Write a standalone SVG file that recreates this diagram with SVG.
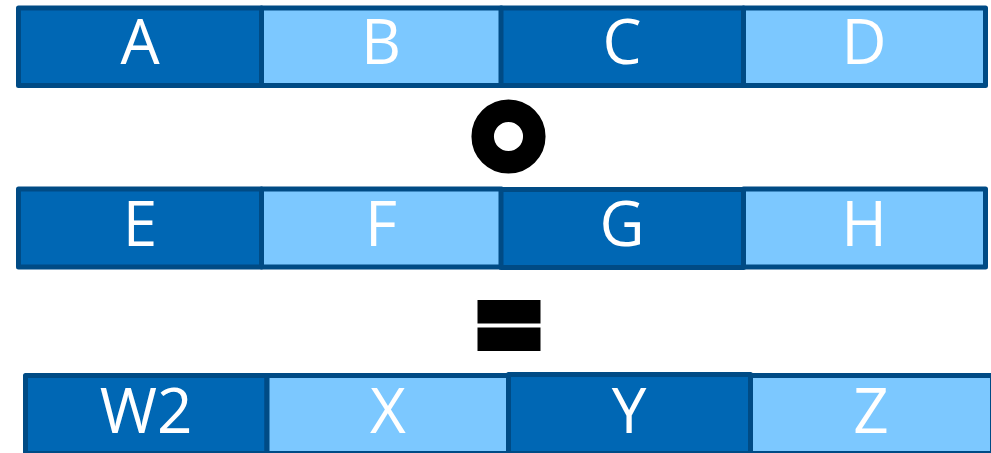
<svg xmlns="http://www.w3.org/2000/svg" width="991" height="453" viewBox="0 0 991 453">
<style>
.dk{fill:#0067b4;stroke:#004b85;stroke-width:5;stroke-linejoin:round}
.lt{fill:#7cc8ff;stroke:#004b85;stroke-width:5;stroke-linejoin:round}
.t{fill:#ffffff;font-family:"Open Sans","Noto Sans",sans-serif;font-size:62px;text-anchor:middle}
</style>
<rect width="991" height="453" fill="#ffffff"/>
<g id="row1">
<g id="A"><rect class="dk" x="18.5" y="8" width="243" height="77.5"/><text class="t" x="140" y="64">A</text></g>
<g id="B"><rect class="lt" x="261.5" y="8" width="240" height="77.5"/><text class="t" x="381" y="64">B</text></g>
<g id="C"><rect class="dk" x="501" y="8" width="242.5" height="77.5"/><text class="t" x="622" y="64">C</text></g>
<g id="D"><rect class="lt" x="743.5" y="8" width="242" height="77.5"/><text class="t" x="864" y="64">D</text></g>
</g>
<g id="op1"><circle cx="508.5" cy="136.5" r="25.8" fill="none" stroke="#000000" stroke-width="22.5"/></g>
<g id="row2">
<g id="E"><rect class="dk" x="18.5" y="189" width="243" height="78"/><text class="t" x="140" y="246">E</text></g>
<g id="F"><rect class="lt" x="261.5" y="189" width="240" height="78"/><text class="t" x="381" y="246">F</text></g>
<g id="G"><rect class="dk" x="501" y="189.5" width="242.5" height="78"/><text class="t" x="622" y="246">G</text></g>
<g id="H"><rect class="lt" x="743.5" y="189" width="242" height="78"/><text class="t" x="864" y="246">H</text></g>
</g>
<g id="op2">
<rect x="477.5" y="300" width="63" height="23.5" fill="#000000"/>
<rect x="477.5" y="327.5" width="63" height="23.5" fill="#000000"/>
</g>
<g id="row3">
<g id="W2"><rect class="dk" x="25.5" y="375.5" width="241.5" height="78"/><text class="t" x="146" y="433">W2</text></g>
<g id="X"><rect class="lt" x="267" y="375.5" width="241.5" height="78"/><text class="t" x="388" y="433">X</text></g>
<g id="Y"><rect class="dk" x="508.5" y="374.5" width="242" height="79"/><text class="t" x="629" y="433">Y</text></g>
<g id="Z"><rect class="lt" x="750.5" y="375.5" width="242" height="78"/><text class="t" x="871" y="433">Z</text></g>
</g>
<g id="connectors"/>
</svg>
